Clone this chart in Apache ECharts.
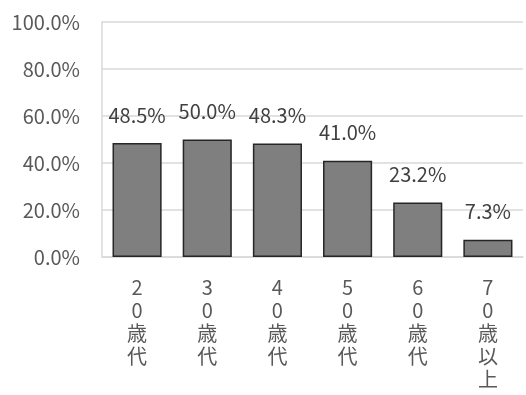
<!DOCTYPE html>
<html>
<head>
<meta charset="utf-8">
<script src="https://cdn.jsdelivr.net/npm/echarts@6/dist/echarts.min.js"></script>
<style>html,body{margin:0;padding:0;background:#fff;}#c{width:526px;height:395px;}</style>
</head>
<body>
<div id="c"></div>
<script>
var categories = ['20歳代', '30歳代', '40歳代', '50歳代', '60歳代', '70歳以上'];
var values = [48.5, 50.0, 48.3, 41.0, 23.2, 7.3];
var yTicks = [0, 20, 40, 60, 80, 100];

var font = '"Noto Sans CJK JP", "Noto Sans", sans-serif';
var chart = echarts.init(document.getElementById('c'), null, {renderer: 'canvas'});
chart.setOption({
  animation: false,
  backgroundColor: '#ffffff',
  grid: {left: 102, right: 3, top: 22, bottom: 138, containLabel: false},
  xAxis: {
    type: 'category',
    data: categories,
    axisLine: {show: true, lineStyle: {color: '#d9d9d9', width: 1.5}},
    axisTick: {show: false},
    axisLabel: {
      interval: 0,
      margin: 19,
      color: '#595959',
      fontFamily: font,
      fontSize: 20,
      lineHeight: 23,
      formatter: function (v) { return v.split('').join('\n'); }
    }
  },
  yAxis: {
    type: 'value',
    min: yTicks[0],
    max: yTicks[yTicks.length - 1],
    interval: 20,
    axisLine: {show: true, lineStyle: {color: '#d9d9d9', width: 1.5}},
    axisTick: {show: false},
    splitLine: {show: true, lineStyle: {color: '#d9d9d9', width: 1.5}},
    axisLabel: {
      margin: 22,
      color: '#595959',
      fontFamily: font,
      fontSize: 20,
      formatter: function (v) { return v.toFixed(1) + '%'; }
    }
  },
  series: [{
    type: 'bar',
    data: values,
    barCategoryGap: '30%',
    itemStyle: {color: '#7f7f7f', borderColor: '#262626', borderWidth: 1.5},
    label: {
      show: true,
      position: 'top',
      distance: 18,
      color: '#404040',
      fontFamily: font,
      fontSize: 20,
      formatter: function (p) { return p.value.toFixed(1) + '%'; }
    }
  }]
});
</script>
</body>
</html>
